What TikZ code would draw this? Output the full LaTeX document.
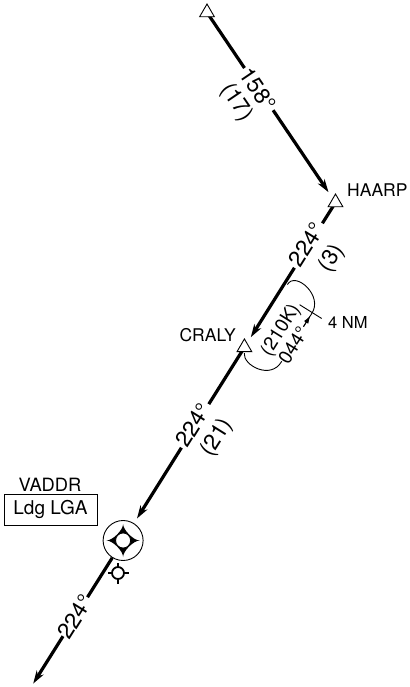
\documentclass[tikz,border=0pt]{standalone}
\usepackage{fontspec}
\setmainfont{TeX Gyre Heros}
\usetikzlibrary{shapes.geometric,arrows.meta,positioning,calc}
\pgfdeclarelayer{background}
\pgfsetlayers{background,main}

\begin{document}
\begin{tikzpicture}[
    x=1pt, y=-1pt,
    fixpt/.style ={
        regular polygon,
        regular polygon sides=3,
        minimum size=17pt,
        inner sep=0pt,
        draw=black,
        line width=0.9pt,
        fill=white
    },
    leg/.style={line width=3.2pt},
    legarrow/.style={leg, -{Stealth[length=13pt,width=8pt,inset=4pt]}},
    crslabel/.style={font=\fontsize{22.5}{22.5}\selectfont, inner sep=0pt, rotate=#1},
    crslabel/.default=57.9,
    fixlabel/.style={font=\fontsize{17.5}{17.5}\selectfont, inner sep=0pt},
    holdline/.style={line width=0.9pt},
    holdlabel/.style={font=\fontsize{19}{19}\selectfont, inner sep=0pt, rotate=57.9}
    ]
    \useasboundingbox (0,0) rectangle (409,687);

    % fixes
    \node[fixpt] (start) at (207,12.5) {};
    \node[fixpt] (haarp) at (335.5,202.5) {};
    \node[fixpt] (craly) at (244.4,347.4) {};
    \node[circle, draw, line width=0.9pt, fill=white, minimum size=40pt, inner sep=0pt] (vaddr) at (123.1,540.5) {};
    \fill[shift={(vaddr)}] (0,16.5) .. controls (0,10.5) and (10.5,0) .. (16.5,0)
        .. controls (10.5,0) and (0,-10.5) .. (0,-16.5)
        .. controls (0,-10.5) and (-10.5,0) .. (-16.5,0)
        .. controls (-10.5,0) and (0,10.5) .. (0,16.5) -- cycle;
    \node[circle, draw, line width=0.8pt, fill=white, minimum size=15pt, inner sep=0pt] (vaddrcore) at (vaddr) {};
    \node[circle, draw, line width=1.8pt, minimum size=12pt, inner sep=0pt] (wpt) at (118,573) {};
    \foreach \ang in {0,90,180,270}
        \draw[line width=1.8pt] (wpt.\ang) -- ($(wpt.center)!10.5pt!(wpt.\ang)$);

    \node[fixlabel, anchor=west] (haarpname) at (347,190) {HAARP};
    \node[fixlabel, anchor=east] (cralyname) at (236,335) {CRALY};
    \node[fixlabel, font=\fontsize{18.3}{18.3}\selectfont] (vaddrname) at (50,485) {VADDR};
    \node[fixlabel, font=\fontsize{19}{19}\selectfont, draw, line width=0.8pt, minimum width=93pt, minimum height=31pt] (ldg) at (50.5,509.5) {Ldg LGA};

    % gaps and tips along the route
    \coordinate (a1) at (244.5,68);
    \coordinate (a2) at (273.1,110.2);
    \coordinate (a3) at (328.5,192.2);
    \coordinate (b1) at (322.4,223.3);
    \coordinate (b2) at (294.4,267.8);
    \coordinate (b3) at (250.8,337.2);
    \coordinate (c1) at (208.8,404.1);
    \coordinate (c2) at (181.4,447.7);
    \coordinate (c3) at (137,518.5);
    \coordinate (d1) at (87.5,597.2);
    \coordinate (d2) at (63,636.2);
    \coordinate (d3) at (33.2,683.6);

    \begin{pgfonlayer}{background}
        \draw[leg] (start.center) -- (a1);
        \draw[legarrow] (a2) -- (a3);
        \draw[leg] (haarp.center) -- (b1);
        \draw[legarrow] (b2) -- (b3);
        \draw[leg] (craly.center) -- (c1);
        \draw[legarrow] (c2) -- (c3);
        \draw[leg] (vaddr) -- (d1);
        \draw[legarrow] (d2) -- (d3);
    \end{pgfonlayer}

    \node[crslabel=-55.9] (crs158) at (257.7,89.3) {158°};
    \node[crslabel=-55.9] (dist17) at (236.5,102.4) {(17)};
    \node[crslabel] (crs224a) at (306.6,244.6) {224°};
    \node[crslabel] (dist3) at (332.2,258.4) {(3)};
    \node[crslabel] (crs224b) at (193.3,425) {224°};
    \node[crslabel] (dist21) at (217.2,437.8) {(21)};
    \node[crslabel] (crs224c) at (75.3,616.7) {224°};

    % holding at CRALY
    \coordinate (h0) at (244.3,353.2);
    \coordinate (h1) at (281.7,361.3);
    \coordinate (h2) at (303.5,326.6);
    \coordinate (h3) at (310.4,315.6);
    \coordinate (h4) at (311.5,313.9);
    \coordinate (h5) at (287.4,284.6);
    \draw[holdline] (h1) .. controls (270.9,380.5) and (242.7,365.2) .. (h0);
    \draw[holdline] (h2) -- (h4) .. controls (324.1,295.8) and (295.1,270.6) .. (h5);
    \draw[holdline, -{Latex[length=8pt,width=5pt]}] (h2) -- (h3);
    \node[holdlabel] (spd) at (281.1,330.3) {(210K)};
    \node[holdlabel] (crs044) at (293.2,345) {044°};

    \coordinate (t0) at (299.6,304.7);
    \coordinate (t1) at (321.7,318.5);
    \draw[holdline] (t0) -- (t1);
    \node[font=\fontsize{16.5}{16.5}\selectfont, inner sep=0pt, anchor=west] (nm) at (328,322.5) {4 NM};
\end{tikzpicture}
\end{document}
